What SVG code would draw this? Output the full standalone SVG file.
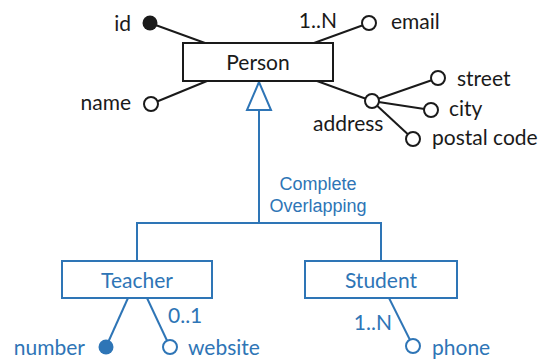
<svg xmlns="http://www.w3.org/2000/svg" width="539" height="360" viewBox="0 0 539 360">
<style>
.t{font-family:Lato,"Open Sans",sans-serif;font-size:21px;fill:#1a1a1a}
.tb{font-family:Lato,"Open Sans",sans-serif;font-size:21px;fill:#2e75b6}
.ta{font-family:"Liberation Sans",Arial,sans-serif;font-size:18px;fill:#2e75b6}
.k{stroke:#1a1a1a;stroke-width:2;fill:none}
.b{stroke:#2e75b6;stroke-width:2;fill:none}
.ko{stroke:#1a1a1a;stroke-width:2;fill:#fff}
.bo{stroke:#2e75b6;stroke-width:2;fill:#fff}
</style>
<rect width="539" height="360" fill="#fff"/>
<g id="connectors">
<line class="k" x1="205" y1="43" x2="150" y2="23"/>
<line class="k" x1="207" y1="81" x2="151" y2="104"/>
<line class="k" x1="314" y1="43" x2="369" y2="23"/>
<line class="k" x1="317" y1="81" x2="372" y2="101"/>
<line class="k" x1="372" y1="101" x2="438" y2="78"/>
<line class="k" x1="372" y1="101" x2="431" y2="110"/>
<line class="k" x1="372" y1="101" x2="413" y2="139"/>
<polyline class="b" points="259,110 259,223"/>
<polyline class="b" points="137,261 137,223 381,223 381,261"/>
<polygon class="bo" points="259,82 247,110 271,110"/>
<line class="b" x1="128" y1="298" x2="106" y2="347"/>
<line class="b" x1="147" y1="298" x2="170" y2="347"/>
<line class="b" x1="389" y1="298" x2="413" y2="346"/>
<text class="ta" x="318" y="190" text-anchor="middle">Complete</text>
<text class="ta" x="318" y="212" text-anchor="middle">Overlapping</text>
</g>
<g id="person">
<rect class="ko" x="183" y="43" width="150" height="38"/>
<text class="t" x="258" y="70" text-anchor="middle">Person</text>
</g>
<g id="attr-id">
<circle cx="150" cy="23" r="7.5" fill="#1a1a1a"/>
<text class="t" x="131" y="31" text-anchor="end">id</text>
</g>
<g id="attr-name">
<circle class="ko" cx="151" cy="104" r="7"/>
<text class="t" x="131" y="110" text-anchor="end">name</text>
</g>
<g id="attr-email">
<circle class="ko" cx="369" cy="23" r="7"/>
<text class="t" x="337" y="28" text-anchor="end">1..N</text>
<text class="t" x="391" y="29">email</text>
</g>
<g id="attr-address">
<circle class="ko" cx="372" cy="101" r="7"/>
<text class="t" x="313" y="131">address</text>
</g>
<g id="attr-street">
<circle class="ko" cx="438" cy="78" r="7"/>
<text class="t" x="457" y="86">street</text>
</g>
<g id="attr-city">
<circle class="ko" cx="431" cy="110" r="7"/>
<text class="t" x="449" y="116">city</text>
</g>
<g id="attr-postal">
<circle class="ko" cx="413" cy="139" r="7"/>
<text class="t" x="432" y="145">postal code</text>
</g>
<g id="teacher">
<rect class="bo" x="62" y="261" width="150" height="37"/>
<text class="tb" x="137" y="288" text-anchor="middle">Teacher</text>
</g>
<g id="student">
<rect class="bo" x="305" y="261" width="152" height="37"/>
<text class="tb" x="381" y="288" text-anchor="middle">Student</text>
</g>
<g id="attr-number">
<circle cx="106" cy="347" r="7.5" fill="#2e75b6"/>
<text class="tb" x="85" y="355" text-anchor="end">number</text>
</g>
<g id="attr-website">
<circle class="bo" cx="170" cy="347" r="7"/>
<text class="tb" x="168" y="323">0..1</text>
<text class="tb" x="188" y="355">website</text>
</g>
<g id="attr-phone">
<circle class="bo" cx="413" cy="346" r="7"/>
<text class="tb" x="392" y="330" text-anchor="end">1..N</text>
<text class="tb" x="432" y="355">phone</text>
</g>
</svg>
